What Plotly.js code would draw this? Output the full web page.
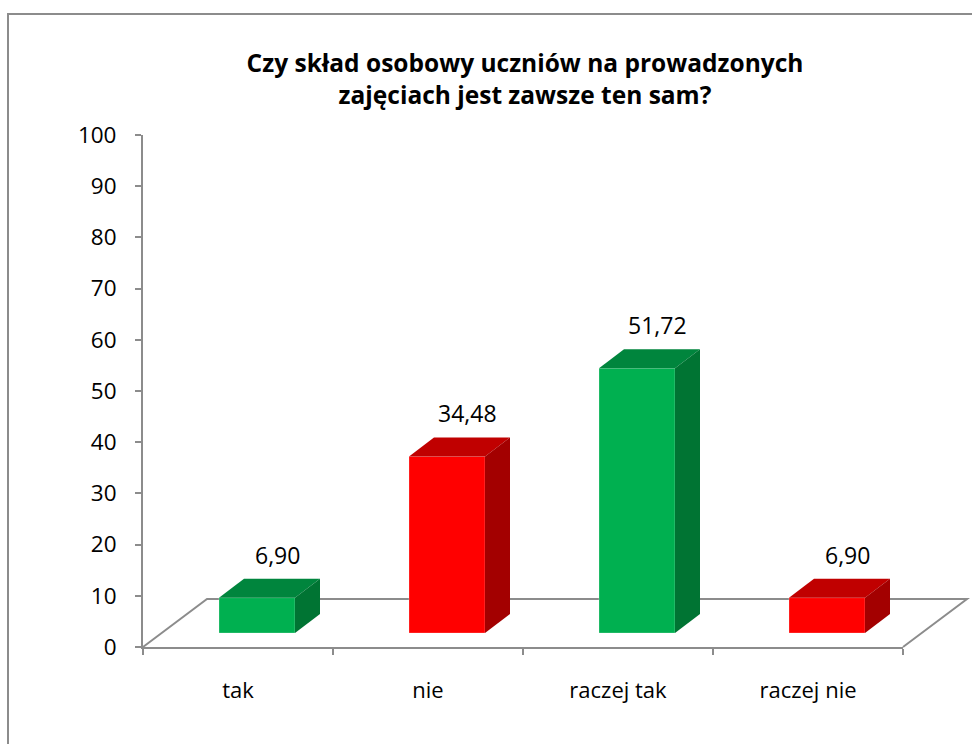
<!DOCTYPE html>
<html>
<head>
<meta charset="utf-8">
<script src="https://cdn.plot.ly/plotly-3.0.1.min.js"></script>
<style>html,body{margin:0;padding:0;background:#fff;}#chart{width:972px;height:744px;}</style>
</head>
<body>
<div id="chart"></div>
<script>
// ---- data ----
const categories = ['tak', 'nie', 'raczej tak', 'raczej nie'];
const values = [6.90, 34.48, 51.72, 6.90];
const yTicks = [0, 10, 20, 30, 40, 50, 60, 70, 80, 90, 100];
const titleText = 'Czy skład osobowy uczniów na prowadzonych<br>zajęciach jest zawsze ten sam?';

// ---- styles ----
const frontColors = ['#00B050', '#FF0000', '#00B050', '#FF0000'];
const topColors   = ['#00853D', '#C00000', '#00853D', '#C00000'];
const sideColors  = ['#007433', '#A30000', '#007433', '#A30000'];
const axisGray = '#8C8C8C';
const FONT = 'Open Sans, Noto Sans, sans-serif';

// faux-3D geometry (axis units)
const barShift = 0.10;
const barWidth = 0.40;
const baseLift = 2.73;
const depthX = 0.1316;
const depthY = 3.71;

const xs = categories.map((c, i) => i + barShift);

const traces = [];
traces.push({
  type: 'bar',
  x: xs,
  y: values,
  base: values.map(() => baseLift),
  width: values.map(() => barWidth),
  marker: { color: frontColors, line: { width: 1, color: 'rgba(255,255,255,0.25)' } },
  hoverinfo: 'skip',
  showlegend: false
});
values.forEach((v, i) => {
  const x0 = xs[i] - barWidth / 2, x1 = xs[i] + barWidth / 2;
  const yb = baseLift, yt = baseLift + v;
  traces.push({
    type: 'scatter', mode: 'lines', fill: 'toself', fillcolor: topColors[i],
    line: { width: 0, color: topColors[i] },
    x: [x0, x1, x1 + depthX, x0 + depthX, x0],
    y: [yt, yt, yt + depthY, yt + depthY, yt],
    hoverinfo: 'skip', showlegend: false
  });
  traces.push({
    type: 'scatter', mode: 'lines', fill: 'toself', fillcolor: sideColors[i],
    line: { width: 0, color: sideColors[i] },
    x: [x1, x1 + depthX, x1 + depthX, x1, x1],
    y: [yb, yb + depthY, yt + depthY, yt, yb],
    hoverinfo: 'skip', showlegend: false
  });
});

const annotations = values.map((v, i) => ({
  x: xs[i] + depthX * 0.8,
  y: baseLift + v + depthY,
  xref: 'x', yref: 'y',
  text: v.toFixed(2).replace('.', ','),
  showarrow: false,
  yanchor: 'middle',
  yshift: 24,
  font: { family: FONT, size: 23, color: '#000' }
}));

const L = 143, R = 69, T = 135, B = 97, W = 972, H = 744;
const pw = W - L - R, ph = H - T - B;
const floorDX = 64 / pw, floorDY = 48 / ph;

const shapes = [
  { type: 'path', xref: 'paper', yref: 'paper', layer: 'below',
    path: `M 0 0 L ${floorDX} ${floorDY} L ${1 + floorDX} ${floorDY} L 1 0`,
    line: { color: axisGray, width: 2 } },
  { type: 'path', xref: 'paper', yref: 'paper', layer: 'below',
    path: `M ${(8 - L) / pw} ${-(B + 20) / ph} L ${(8 - L) / pw} ${(H - B - 14) / ph} L ${(W + 20 - L) / pw} ${(H - B - 14) / ph}`,
    line: { color: axisGray, width: 2 } }
];

const layout = {
  width: W, height: H,
  margin: { l: L, r: R, t: T, b: B, pad: 0 },
  paper_bgcolor: '#fff', plot_bgcolor: 'rgba(0,0,0,0)',
  showlegend: false,
  title: {
    text: titleText,
    font: { family: FONT, size: 24.5, color: '#000', weight: 700 },
    x: 525 / W, xref: 'container', xanchor: 'center',
    y: 1 - 72 / H, yref: 'container', yanchor: 'middle'
  },
  xaxis: {
    range: [-0.5, categories.length - 0.5],
    tickmode: 'array',
    tickvals: categories.map((c, i) => i),
    ticktext: categories,
    ticks: '',
    ticklabelstandoff: 23,
    minor: { tickmode: 'array', tickvals: categories.map((c, i) => i - 0.5).concat([categories.length - 0.5]),
             ticks: 'outside', ticklen: 6, tickwidth: 2, tickcolor: axisGray, showgrid: false },
    showline: true, linecolor: axisGray, linewidth: 2,
    showgrid: false, zeroline: false, fixedrange: true,
    tickfont: { family: FONT, size: 22, color: '#000' }
  },
  yaxis: {
    range: [0, 100],
    tickmode: 'array', tickvals: yTicks, ticktext: yTicks.map(String),
    ticks: 'outside', ticklen: 6, tickwidth: 2, tickcolor: axisGray,
    ticklabelstandoff: 14,
    showline: true, linecolor: axisGray, linewidth: 2,
    showgrid: false, zeroline: false, fixedrange: true,
    tickfont: { family: FONT, size: 22.5, color: '#000' }
  },
  bargap: 0,
  shapes: shapes,
  annotations: annotations
};

Plotly.newPlot('chart', traces, layout, { staticPlot: true, displayModeBar: false });
</script>
</body>
</html>
